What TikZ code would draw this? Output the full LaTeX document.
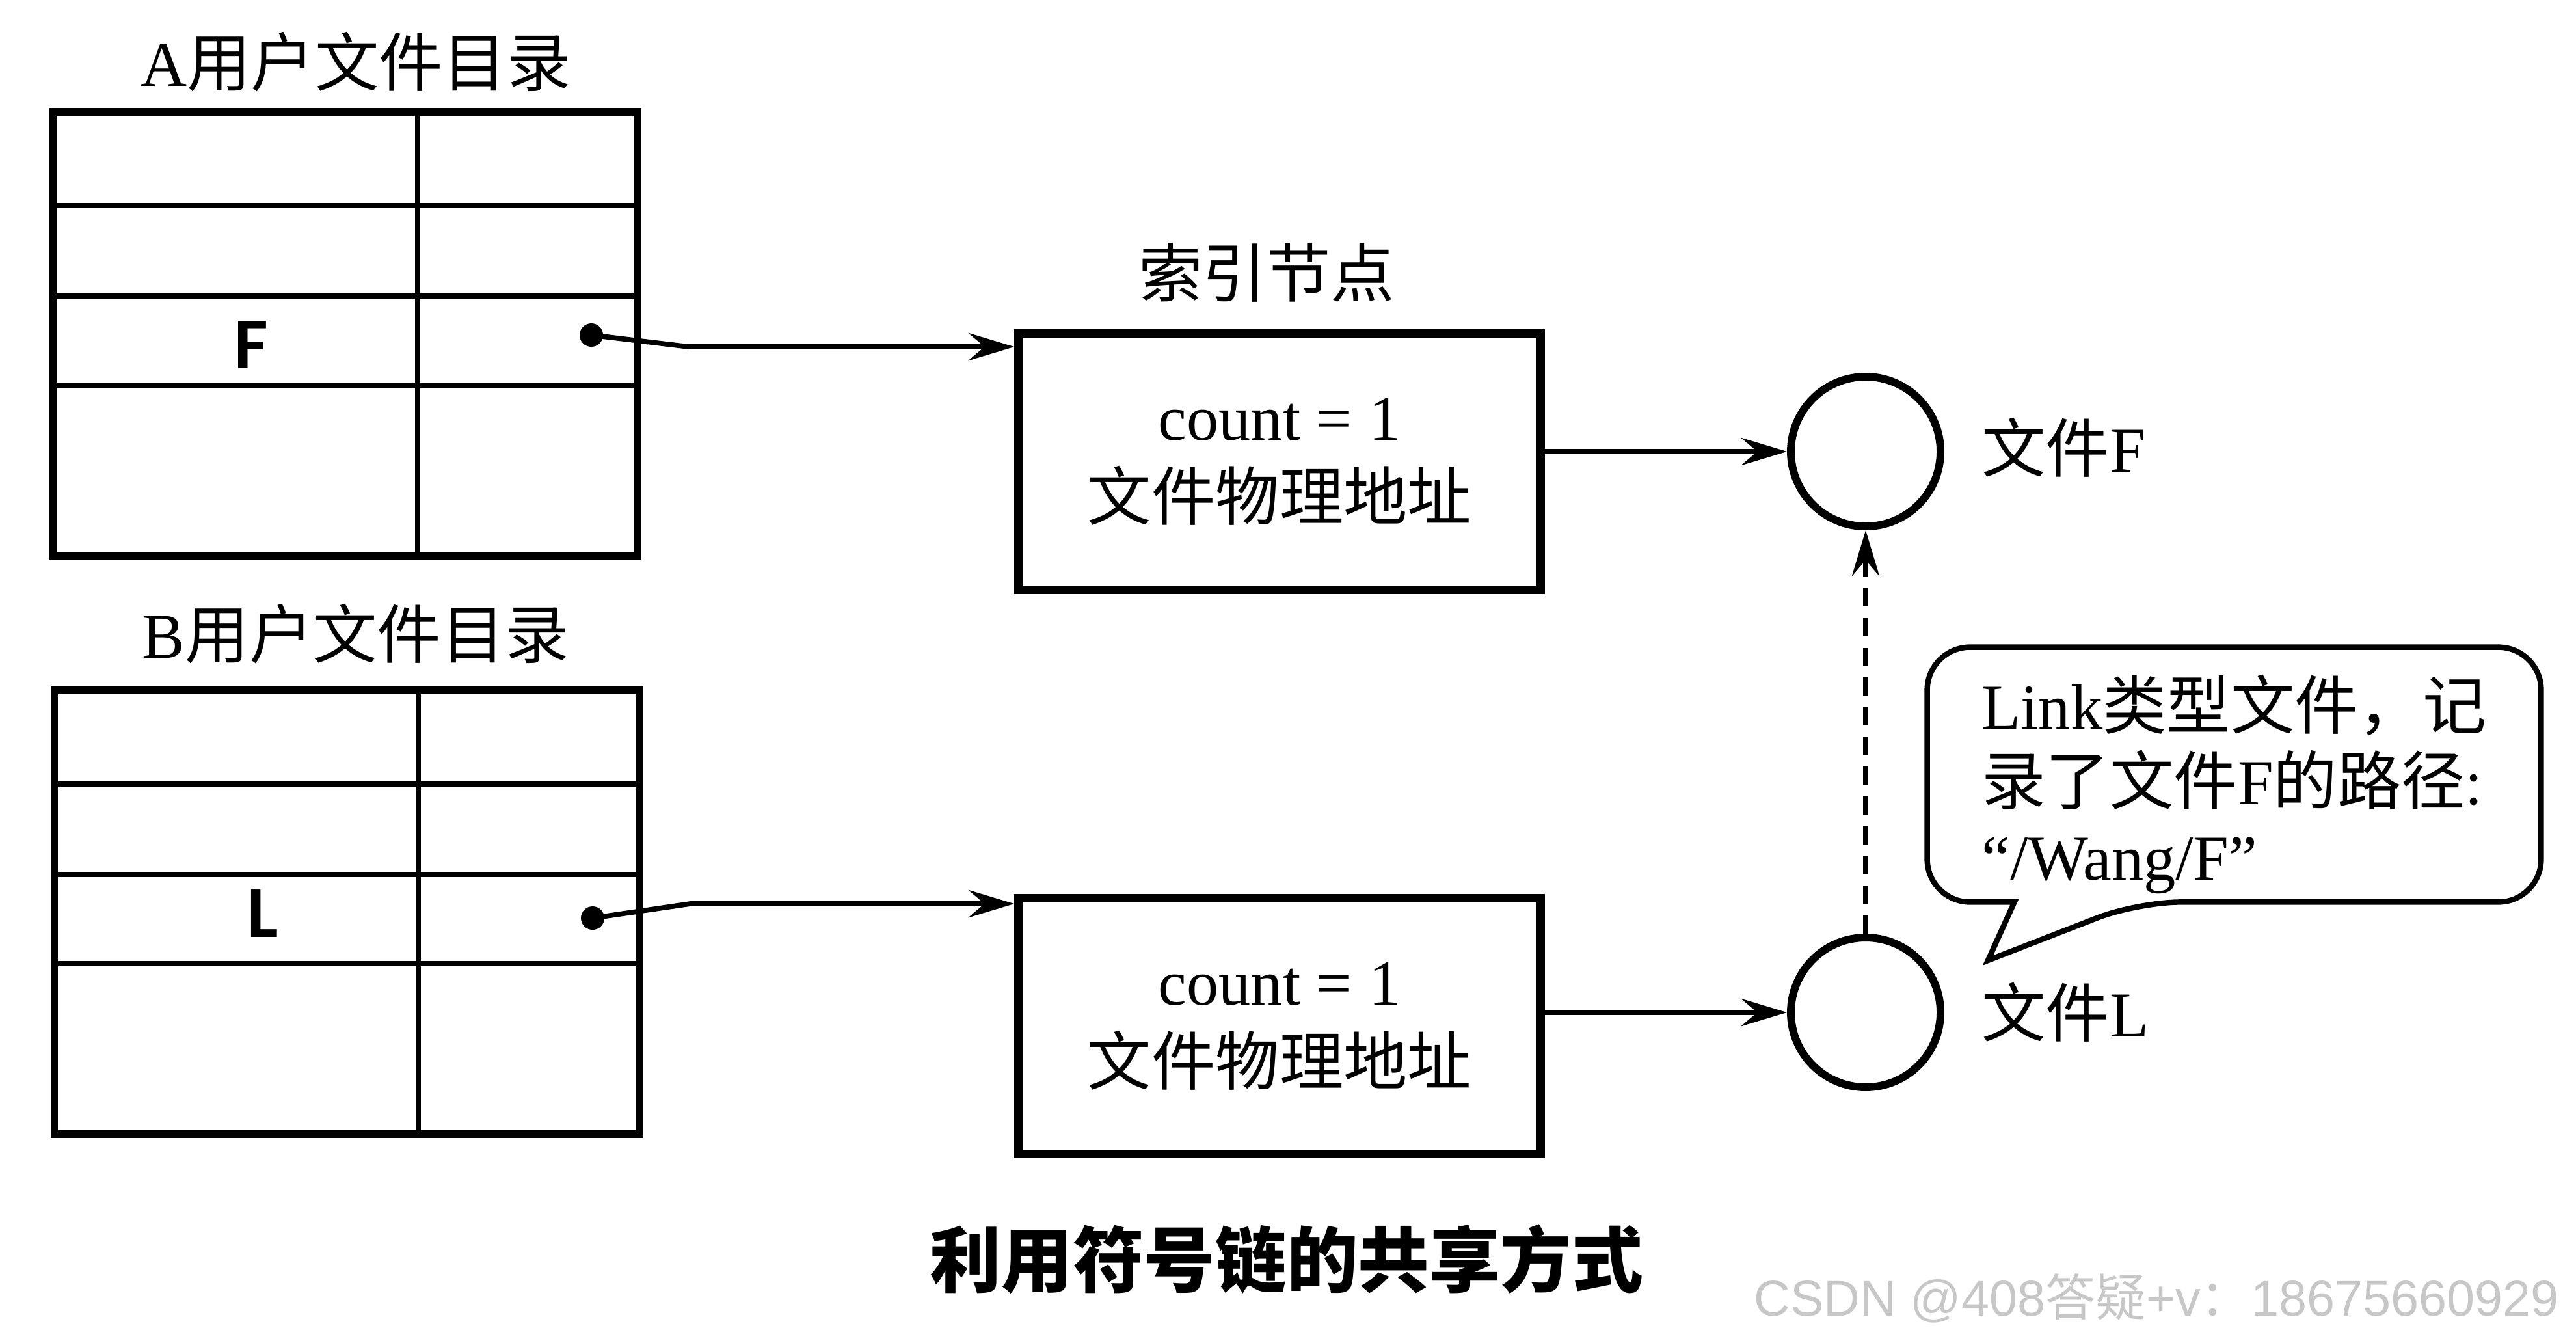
\documentclass[tikz,border=0pt]{standalone}
\usepackage{fontspec}
\setmainfont{Liberation Serif}
\newfontfamily\cjk{Noto Sans CJK SC}
\newfontfamily\tabfont{Carlito}
\newfontfamily\wmfont{Liberation Sans}
\newcommand\zh[1]{{\cjk #1}}
\usetikzlibrary{arrows.meta,positioning}

\begin{document}
\begin{tikzpicture}[>={Stealth[length=10pt,width=6pt,inset=3.5pt]},
  font=\fontsize{14}{16.5}\selectfont,
  dirtab/.style={draw,line width=1.7pt,minimum width=4.495cm,minimum height=3.41cm,outer sep=0pt},
  rowline/.style={line width=1.1pt},
  ptr/.style={circle,fill,inner sep=0pt,minimum size=0.18cm},
  inode/.style={draw,line width=1.8pt,minimum width=4.015cm,minimum height=1.97cm,align=center,font=\fontsize{14}{17.5}\selectfont},
  filenode/.style={circle,draw,line width=1.7pt,minimum size=1.15cm,inner sep=0pt},
  link/.style={->,line width=1.1pt},
  lbl/.style={inner sep=0pt},
  entry/.style={inner sep=0pt,font=\tabfont\bfseries\fontsize{16}{18}\selectfont}]
\useasboundingbox (0,0) rectangle (19.8,-10.3);

% user directories
\node[dirtab] (tabA) at (2.655,-2.565) {};
\node[dirtab] (tabB) at (2.665,-7.01) {};
\foreach \t in {tabA,tabB}{
  \foreach \r in {0.72,1.415,2.1}
    \draw[rowline] ([yshift=-\r cm]\t.north west) -- ([yshift=-\r cm]\t.north east);
  \draw[rowline] ([xshift=2.8cm]\t.north west) -- ([xshift=2.8cm]\t.south west);
}
\node[lbl,above=0.15cm of tabA,xshift=0.08cm] (titleA) {A\zh{用户文件目录}};
\node[lbl,above=0.2cm of tabB,xshift=0.07cm] (titleB) {B\zh{用户文件目录}};
\node[entry] (entF) at (1.93,-2.65) {F};
\node[entry] (entL) at (2.02,-7.02) {L};
\node[ptr] (dotA) at (4.545,-2.575) {};
\node[ptr] (dotB) at (4.555,-7.055) {};

% index nodes
\node[inode] (inodeA) at (9.835,-3.5475) {count = 1\\\zh{文件物理地址}};
\node[inode] (inodeB) at (9.835,-7.885) {count = 1\\\zh{文件物理地址}};
\node[lbl,above=0.2cm of inodeA,xshift=-0.1cm] (idxtitle) {\zh{索引节点}};

% files
\node[filenode] (fileF) at (14.34,-3.47) {};
\node[filenode] (fileL) at (14.34,-7.78) {};
\node[lbl,right=0.28cm of fileF,yshift=0.03cm] (nameF) {\zh{文件}F};
\node[lbl,right=0.28cm of fileL] (nameL) {\zh{文件}L};

% connectors
\coordinate (bendA) at (5.295,-2.665);
\coordinate (bendB) at (5.305,-6.945);
\draw[link] (dotA.center) -- (bendA) -- (bendA -| inodeA.west);
\draw[link] (dotB.center) -- (bendB) -- (bendB -| inodeB.west);
\draw[link] (inodeA.east |- fileF) -- (fileF);
\draw[link] (inodeB.east |- fileL) -- (fileL);
\draw[link,dash pattern=on 4pt off 2.5pt] (fileL) -- (fileF);

% note on the link file
\node[lbl,minimum width=4.705cm,minimum height=1.945cm] (note) at (17.1725,-5.9525) {};
\node[lbl,align=left] (notetext) at ([yshift=-0.075cm]note.center)
  {Link\zh{类型文件，记}\\\zh{录了文件}F\zh{的路径}:\\“/Wang/F”};
\coordinate (tip) at (15.28,-7.38);
\draw[line width=1.2pt] ([xshift=0.67cm]note.south west) [rounded corners=0.33cm]
  -- (note.south west) -- (note.north west) -- (note.north east) -- (note.south east)
  -- ([xshift=1.62cm]note.south west) [sharp corners] -- (tip) -- cycle;

\node (caption) at (9.89,-9.675) {\cjk\bfseries\fontsize{15.6}{18}\selectfont 利用符号链的共享方式};
\node[lbl,anchor=west,text=black!22] (mark) at (13.475,-9.975)
  {\wmfont\fontsize{11}{13}\selectfont CSDN @408\zh{答疑}+v\zh{：}18675660929};
\end{tikzpicture}
\end{document}
